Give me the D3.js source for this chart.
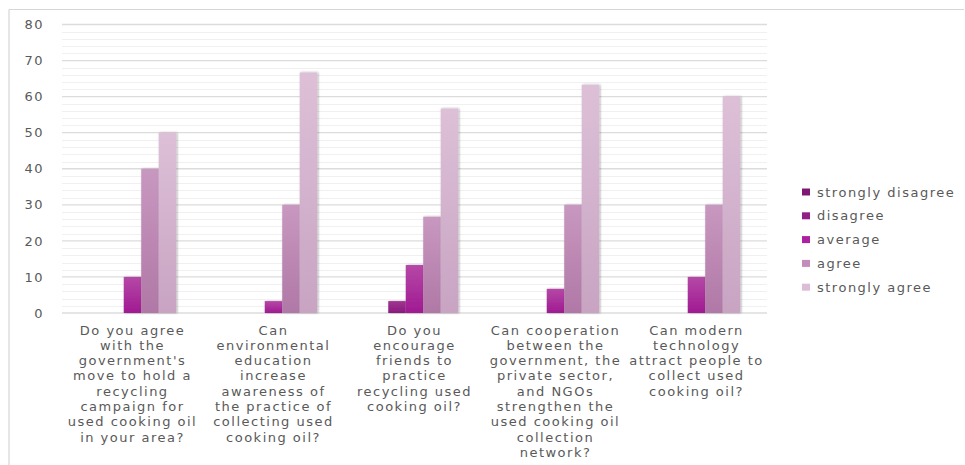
<!DOCTYPE html>
<html>
<head>
<meta charset="utf-8">
<script src="https://cdn.jsdelivr.net/npm/d3@7/dist/d3.min.js"></script>
<style>
  html, body { margin: 0; padding: 0; background: #ffffff; }
  svg { display: block; }
  text { font-family: "DejaVu Sans", sans-serif; fill: #595959; }
</style>
</head>
<body>
<svg id="chart" width="965" height="465"></svg>
<script>
const categories = [
  "Do you agree\nwith the\ngovernment's\nmove to hold a\nrecycling\ncampaign for\nused cooking oil\nin your area?",
  "Can\nenvironmental\neducation\nincrease\nawareness of\nthe practice of\ncollecting used\ncooking oil?",
  "Do you\nencourage\nfriends to\npractice\nrecycling used\ncooking oil?",
  "Can cooperation\nbetween the\ngovernment, the\nprivate sector,\nand NGOs\nstrengthen the\nused cooking oil\ncollection\nnetwork?",
  "Can modern\ntechnology\nattract people to\ncollect used\ncooking oil?"
];
const seriesNames = ["strongly disagree", "disagree", "average", "agree", "strongly agree"];
const stronglyDisagree = [0, 0, 0, 0, 0];
const disagree = [0, 0, 3.3, 0, 0];
const average = [10, 3.3, 13.3, 6.7, 10];
const agree = [40, 30, 26.7, 30, 30];
const stronglyAgree = [50, 66.7, 56.7, 63.3, 60];
const yTicks = [0, 10, 20, 30, 40, 50, 60, 70, 80];

const seriesValues = [stronglyDisagree, disagree, average, agree, stronglyAgree];
const colorsTop = ["#8a2a7e", "#a0358f", "#b548a6", "#c898c0", "#ddc0d8"];
const colorsBottom = ["#741466", "#8a1a7e", "#a01a92", "#b078a6", "#c8a4c2"];
const legendColors = ["#7d1a70", "#921f86", "#ad20a0", "#c48cbb", "#dcbcd6"];

const svg = d3.select("#chart");
const defs = svg.append("defs");
seriesNames.forEach((s, i) => {
  const g = defs.append("linearGradient").attr("id", "grad" + i)
    .attr("x1", 0).attr("y1", 0).attr("x2", 0).attr("y2", 1);
  g.append("stop").attr("offset", "0%").attr("stop-color", colorsTop[i]);
  g.append("stop").attr("offset", "100%").attr("stop-color", colorsBottom[i]);
});
const f = defs.append("filter").attr("id", "shadow")
  .attr("x", "-30%").attr("y", "-5%").attr("width", "160%").attr("height", "110%");
f.append("feDropShadow").attr("dx", 1).attr("dy", 0).attr("stdDeviation", 1)
  .attr("flood-color", "#000").attr("flood-opacity", 0.35);

// chart border (top & left)
svg.append("line").attr("x1", 9).attr("x2", 964).attr("y1", 9.5).attr("y2", 9.5)
  .attr("stroke", "#d6d6d6").attr("stroke-width", 1.2);
svg.append("line").attr("x1", 9).attr("x2", 9).attr("y1", 9.5).attr("y2", 465)
  .attr("stroke", "#d6d6d6").attr("stroke-width", 1.2);

const plotLeft = 62, plotRight = 767, plotTop = 24.5, plotBottom = 313;
const y = d3.scaleLinear().domain([0, 80]).range([plotBottom, plotTop]);
const x0 = d3.scaleBand().domain(d3.range(categories.length)).range([plotLeft, plotRight])
  .paddingInner(0.38).paddingOuter(0.19);
const x1 = d3.scaleBand().domain(d3.range(seriesNames.length)).range([0, x0.bandwidth()]);

// minor gridlines
const minor = d3.range(0, 81, 2).filter(v => v % 10 !== 0);
svg.append("g").selectAll("line").data(minor).join("line")
  .attr("x1", plotLeft).attr("x2", plotRight)
  .attr("y1", d => Math.round(y(d)) + 0.5).attr("y2", d => Math.round(y(d)) + 0.5)
  .attr("stroke", "#f0f0f0").attr("stroke-width", 1);
// major gridlines
svg.append("g").selectAll("line").data(yTicks).join("line")
  .attr("x1", plotLeft).attr("x2", plotRight)
  .attr("y1", d => y(d)).attr("y2", d => y(d))
  .attr("stroke", "#dcdcdc").attr("stroke-width", 1.3);

// y axis
const yAxis = d3.axisLeft(y).tickValues(yTicks).tickSize(0).tickPadding(0);
const ya = svg.append("g").attr("transform", "translate(44,0)").call(yAxis);
ya.select(".domain").remove();
ya.selectAll("text").attr("font-size", "13px").attr("letter-spacing", "1.5px")
  .style("font-family", "DejaVu Sans, sans-serif").attr("fill", "#595959");

// bars
const groups = svg.append("g").selectAll("g").data(categories.map((c, i) => i)).join("g")
  .attr("transform", d => `translate(${x0(d)},0)`);
groups.selectAll("rect").data(ci => seriesValues.map((arr, si) => ({si, v: arr[ci]})))
  .join("rect")
  .filter(d => d.v > 0)
  .attr("x", d => x1(d.si)).attr("width", x1.bandwidth())
  .attr("y", d => y(d.v)).attr("height", d => y(0) - y(d.v))
  .attr("fill", d => `url(#grad${d.si})`)
  .attr("filter", "url(#shadow)");

// x axis labels
const xAxis = d3.axisBottom(x0).tickSize(0).tickFormat("");
const xa = svg.append("g").attr("transform", `translate(0,${plotBottom})`).call(xAxis);
xa.select(".domain").remove();
const lbl = svg.append("g").selectAll("text").data(categories.map((c, i) => i)).join("text")
  .attr("text-anchor", "middle").attr("font-size", "13px").attr("letter-spacing", "1.5px")
  .attr("x", d => x0(d) + x0.bandwidth() / 2).attr("y", 334.5);
lbl.selectAll("tspan").data(d => categories[d].split("\n").map((t, k) => ({t, k, d})))
  .join("tspan")
  .attr("x", o => x0(o.d) + x0.bandwidth() / 2)
  .attr("dy", o => o.k === 0 ? 0 : 15.3)
  .text(o => o.t);

// legend
const lg = svg.append("g").selectAll("g").data(seriesNames).join("g")
  .attr("transform", (d, i) => `translate(802,${192 + i * 23.8})`);
lg.append("rect").attr("x", 0).attr("y", -3.5).attr("width", 8).attr("height", 7)
  .attr("fill", (d, i) => legendColors[i]);
lg.append("text").attr("x", 15).attr("y", 4.5).attr("font-size", "13px")
  .attr("letter-spacing", "1.5px").text(d => d);
</script>
</body>
</html>
